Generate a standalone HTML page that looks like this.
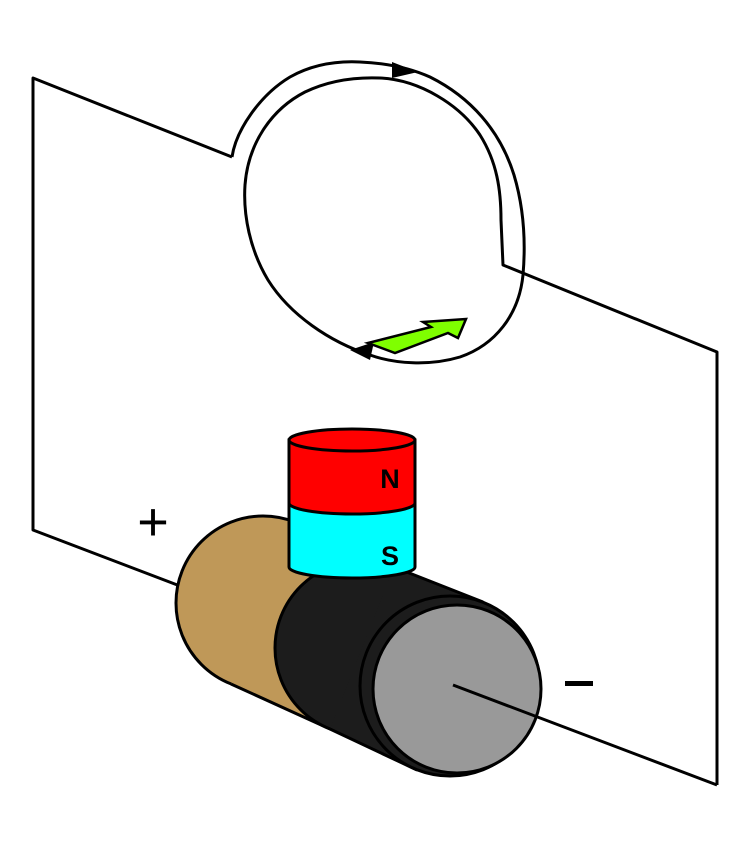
<!DOCTYPE html>
<html><head><style>html,body{margin:0;padding:0;background:#fff}svg{display:block}</style></head>
<body>
<svg width="750" height="862" viewBox="0 0 750 862" xmlns="http://www.w3.org/2000/svg">
<g fill="none" stroke="#000" stroke-width="3" stroke-linejoin="round">
<polyline points="232,157 33,78 33,530 180,586"/>
<path d="M232,157 C236,130 260,95 290,77 C315,63 340,61 360,62 C385,63 410,68 430,77 C470,97 500,130 514,175 C523,205 526,240 523,275 C519,315 495,345 460,357 C430,366 395,364 370,355 C330,342 290,315 268,280 C250,250 243,215 245,185 C248,145 270,110 305,92 C330,80 355,77 380,78 C420,80 460,105 480,135 C497,162 501,190 501,220 L503,265 L717,352 L717,785"/>
</g>
<polygon points="392,62 418,72 392,78" fill="#000"/>
<polygon points="350,350 374,342 370,360" fill="#000"/>
<polygon points="368,343 395,353 448,333 458,338 466,319 423,322 431,327" fill="#7fff00" stroke="#000" stroke-width="2.5"/>
<!-- battery -->
<g stroke="#000" stroke-width="3">
<circle cx="263" cy="603" r="87" fill="#bf9858"/>
<polygon points="295,522 394,567 330,729 231,684" fill="#bf9858" stroke="none"/>
<line x1="295" y1="522" x2="394" y2="567"/>
<line x1="231" y1="684" x2="330" y2="729"/>
<circle cx="362" cy="648" r="87" fill="#1c1c1c"/>
<polygon points="394,567 483,602 417,770 330,729" fill="#1c1c1c" stroke="none"/>
<line x1="394" y1="567" x2="483" y2="602"/>
<line x1="330" y1="729" x2="417" y2="770"/>
<circle cx="450" cy="686" r="90" fill="#1c1c1c"/>
<circle cx="457" cy="689" r="84" fill="#999"/>
</g>
<line x1="453" y1="685" x2="717" y2="785" stroke="#000" stroke-width="3"/>
<!-- magnet -->
<g stroke="#000" stroke-width="3">
<path d="M289,440 L289,567 A63,11 0 0 0 415,567 L415,440 Z" fill="#00ffff"/>
<path d="M289,440 L289,503 A63,11 0 0 0 415,503 L415,440 Z" fill="#ff0000"/>
<ellipse cx="352" cy="440" rx="63" ry="11" fill="#ff0000"/>
</g>
<text x="390" y="488" font-family="Liberation Sans, sans-serif" font-weight="bold" font-size="27" text-anchor="middle">N</text>
<text x="390" y="565" font-family="Liberation Sans, sans-serif" font-weight="bold" font-size="27" text-anchor="middle">S</text>
<text x="153" y="540" font-family="Liberation Sans, sans-serif" font-size="54" text-anchor="middle">+</text>
<rect x="565" y="681" width="28" height="5" fill="#000"/>
</svg>
</body></html>
